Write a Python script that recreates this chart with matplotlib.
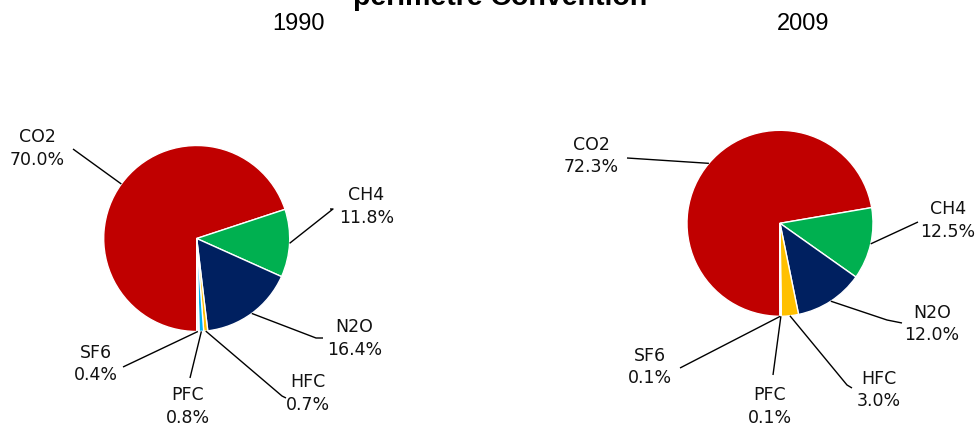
import numpy as np
import matplotlib
matplotlib.use("Agg")
import matplotlib.pyplot as plt

# ---- data ----
gases = ["CO2", "CH4", "N2O", "HFC", "PFC", "SF6"]
share_1990 = [70.0, 11.8, 16.4, 0.7, 0.8, 0.4]
share_2009 = [72.3, 12.5, 12.0, 3.0, 0.1, 0.1]
years = ["1990", "2009"]
title = "perimètre Convention"

colors = ["#C00000", "#00B050", "#002060", "#FFC000", "#00B0F0", "#F4F4F4"]

W, H = 976, 430
fig = plt.figure(figsize=(W / 100, H / 100), dpi=100)
ax = fig.add_axes([0, 0, 1, 1])

def Y(y):
    return H - y

# layout (pixel positions of pies and labels)
pies = [
    dict(vals=share_1990, center=(196.7, 238.5), r=93, year_x=298,
         labels=[(37.5, 148.5), (366.5, 206.5), (354.5, 338.5), (307.5, 393.5), (188, 406.5), (96, 364)],
         elbows=[(73, 149), (333, 209), (316, 338), (282, 396), (190, 378), (123, 367)],
         tails=[None, (330, 209), (323, 338), (286, 398), None, None]),
    dict(vals=share_2009, center=(780, 223.3), r=93, year_x=803,
         labels=[(591, 156), (948, 220.5), (932, 324), (879, 390), (770, 406.5), (650, 367)],
         elbows=[(627, 158), (918, 222), (887, 320), (847, 385), (773, 375), (680, 368)],
         tails=[None, None, (902, 323), (852, 388), None, None]),
]

for p in pies:
    cx, cy = p["center"]
    wedges, _ = ax.pie(p["vals"], colors=colors, startangle=-90, counterclock=False,
                       center=(cx, Y(cy)), radius=p["r"],
                       wedgeprops=dict(edgecolor="white", linewidth=1.0))
    for i, w in enumerate(wedges):
        mid = np.deg2rad((w.theta1 + w.theta2) / 2)
        sx = cx + p["r"] * np.cos(mid)
        sy = Y(cy) + p["r"] * np.sin(mid)
        ex, ey = p["elbows"][i]
        xs, ys = [sx, ex], [sy, Y(ey)]
        if p["tails"][i] is not None:
            tx, ty = p["tails"][i]
            xs.append(tx); ys.append(Y(ty))
        ax.plot(xs, ys, color="black", lw=1.0, solid_capstyle="butt")
        lx, ly = p["labels"][i]
        ax.text(lx, Y(ly), f"{gases[i]}\n{p['vals'][i]:.1f}%", ha="center", va="center",
                fontsize=12.5, family="DejaVu Sans", linespacing=1.35, color="#111111")
    ax.text(p["year_x"], Y(23.5), years[pies.index(p)], ha="center", va="center",
            fontsize=17, family="Liberation Sans", color="black")

ax.text(500, Y(5), title, ha="center", va="baseline", fontsize=20.5,
        family="Liberation Sans", fontweight="bold", color="black")

ax.set_xlim(0, W)
ax.set_ylim(0, H)
ax.set_aspect("auto")
ax.axis("off")
fig.savefig("out.png", dpi=100)
